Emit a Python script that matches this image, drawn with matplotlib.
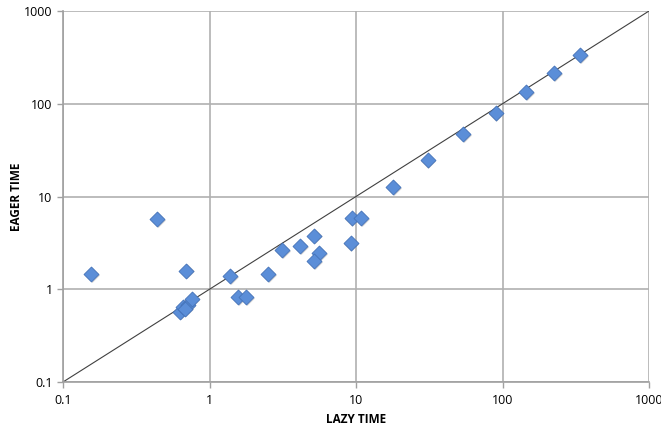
import numpy as np
import matplotlib.pyplot as plt

plt.rcParams['font.family'] = ['Open Sans', 'DejaVu Sans']

# Data (seconds)
lazy_time = [0.155, 0.44, 0.69, 0.63, 0.66, 0.71, 0.68, 0.756,
             1.38, 1.57, 1.77, 2.52, 3.14, 4.15, 5.17, 5.59, 5.19,
             9.2, 9.35, 10.8, 18.0, 30.8, 54, 89.9, 144.6, 225, 338]
eager_time = [1.46, 5.72, 1.59, 0.574, 0.65, 0.68, 0.62, 0.78,
              1.39, 0.82, 0.82, 1.46, 2.65, 2.93, 3.78, 2.44, 2.03,
              3.13, 5.82, 5.82, 12.6, 24.7, 46.8, 78.8, 132.7, 213, 335]
tick_vals = [0.1, 1, 10, 100, 1000]
tick_labels = ['0.1', '1', '10', '100', '1000']

fig = plt.figure(figsize=(6.61, 4.30), dpi=100)
ax = fig.add_axes([63 / 661, 48 / 430, 586 / 661, 371 / 430])

ax.set_xscale('log')
ax.set_yscale('log')
ax.set_xlim(0.1, 1000)
ax.set_ylim(0.1, 1000)

# y = x reference line
ax.plot(tick_vals, tick_vals, color='#404040', lw=0.8, zorder=2)

# drop shadow then markers
ax.scatter(np.array(lazy_time) * 1.012, np.array(eager_time) / 1.02, marker='D', s=58,
           color='#888888', alpha=0.35, lw=0, zorder=3)
ax.scatter(lazy_time, eager_time, marker='D', s=58, facecolor='#5b8ed8',
           edgecolor='#4472b8', lw=0.6, zorder=4)

ax.set_xticks(tick_vals)
ax.set_xticklabels(tick_labels)
ax.set_yticks(tick_vals)
ax.set_yticklabels(tick_labels)
ax.minorticks_off()
ax.grid(True, color='#b0b0b0', lw=1.2, zorder=0)
ax.set_axisbelow(True)

for side in ['top', 'right']:
    ax.spines[side].set_visible(False)
for side in ['left', 'bottom']:
    ax.spines[side].set_color('#a0a0a0')
    ax.spines[side].set_linewidth(1.2)
ax.tick_params(colors='#a0a0a0', labelcolor='black', labelsize=9, length=4, width=1.0)
ax.tick_params(axis='x', pad=5)

ax.set_xlabel('LAZY TIME', fontsize=8.5, fontweight='bold', labelpad=4)
ax.set_ylabel('EAGER TIME', fontsize=8.5, fontweight='bold', labelpad=1)

fig.savefig('out.png', dpi=100)
